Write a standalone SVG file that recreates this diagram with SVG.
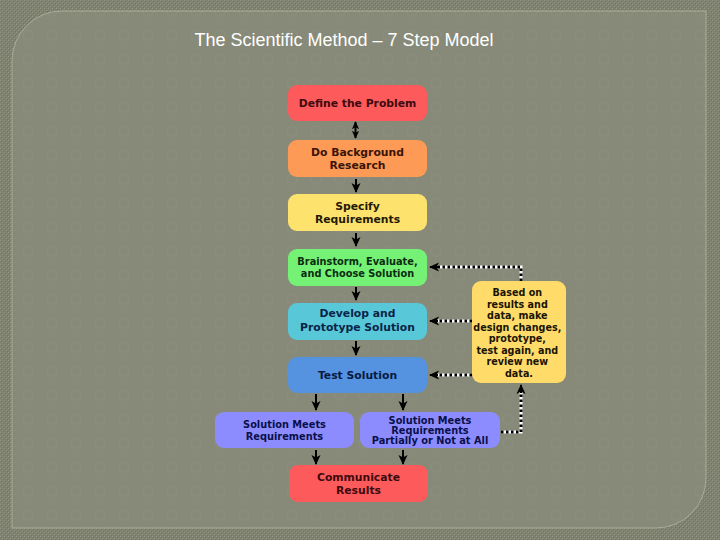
<svg xmlns="http://www.w3.org/2000/svg" width="720" height="540" viewBox="0 0 720 540">
<defs>
<pattern id="outerTex" width="4" height="4" patternUnits="userSpaceOnUse">
<rect width="4" height="4" fill="#7f8271"/>
<rect x="0" y="0" width="1" height="1" fill="#959884"/>
<rect x="2" y="2" width="1" height="1" fill="#959884"/>
<rect x="1" y="1" width="1" height="1" fill="#6f7262"/>
<rect x="3" y="3" width="1" height="1" fill="#6f7262"/>
</pattern>
<pattern id="innerTex" width="24" height="24" patternUnits="userSpaceOnUse" x="16" y="23">
<rect width="24" height="24" fill="#878a78"/>
<circle cx="12" cy="12" r="5" fill="none" stroke="#8b8e7c" stroke-width="1.5"/>
</pattern>
<marker id="ah" viewBox="0 0 10 10" refX="9" refY="5" markerWidth="10" markerHeight="10" markerUnits="userSpaceOnUse" orient="auto-start-reverse">
<path d="M0,0.5 L10,5 L0,9.5 L2.5,5 Z" fill="#000"/>
</marker>
<marker id="ahs" viewBox="0 0 10 10" refX="9" refY="5" markerWidth="8" markerHeight="8" markerUnits="userSpaceOnUse" orient="auto-start-reverse">
<path d="M0,0.5 L10,5 L0,9.5 L2.5,5 Z" fill="#000"/>
</marker>
<style>
.box{stroke:none}
.t{font-family:"DejaVu Sans",Verdana,sans-serif;font-weight:bold;text-anchor:middle}
.solid{stroke:#000;stroke-width:2;fill:none}
.dotW{stroke:#fff;stroke-width:3;fill:none}
.dotB{stroke:#000;stroke-width:3;fill:none;stroke-dasharray:2.5 2.5}
</style>
</defs>
<rect width="720" height="540" fill="url(#outerTex)"/>
<path d="M62,11 H706 V478 A50,50 0 0 1 656,528 H12 V61 A50,50 0 0 1 62,11 Z" fill="url(#innerTex)" stroke="#a9ac98" stroke-width="1"/>
<text x="344" y="46" font-family="Liberation Sans, Arial, sans-serif" font-size="18" fill="#ffffff" text-anchor="middle">The Scientific Method – 7 Step Model</text>

<g id="connectors">
<line class="solid" x1="355.5" y1="122" x2="355.5" y2="138" marker-start="url(#ahs)" marker-end="url(#ahs)"/>
<line class="solid" x1="356" y1="179" x2="356" y2="192" marker-end="url(#ah)"/>
<line class="solid" x1="356" y1="233" x2="356" y2="246" marker-end="url(#ah)"/>
<line class="solid" x1="356" y1="287" x2="356" y2="300" marker-end="url(#ah)"/>
<line class="solid" x1="356" y1="341" x2="356" y2="355" marker-end="url(#ah)"/>
<line class="solid" x1="316" y1="394" x2="316" y2="410" marker-end="url(#ah)"/>
<line class="solid" x1="403" y1="394" x2="403" y2="410" marker-end="url(#ah)"/>
<line class="solid" x1="316" y1="450" x2="316" y2="464" marker-end="url(#ah)"/>
<line class="solid" x1="403" y1="450" x2="403" y2="464" marker-end="url(#ah)"/>
<path class="dotW" d="M521,281 V267 H437"/>
<path class="dotB" d="M521,281 V267 H437"/>
<path class="solid" d="M438,267 H430" marker-end="url(#ah)"/>
<path class="dotW" d="M472,321 H437"/>
<path class="dotB" d="M472,321 H437"/>
<path class="solid" d="M438,321 H430" marker-end="url(#ah)"/>
<path class="dotW" d="M472,375 H437"/>
<path class="dotB" d="M472,375 H437"/>
<path class="solid" d="M438,375 H430" marker-end="url(#ah)"/>
<path class="dotW" d="M501,432 H521 V392"/>
<path class="dotB" d="M501,432 H521 V392"/>
<path class="solid" d="M521,393 V385" marker-end="url(#ah)"/>
</g>

<g id="n1">
<rect class="box" x="288" y="85" width="139" height="36" rx="9" fill="#fd5b5b"/>
<text class="t" x="357.5" y="107" font-size="10.8" fill="#3d0a0e">Define the Problem</text>
</g>
<g id="n2">
<rect class="box" x="288" y="140" width="139" height="37" rx="9" fill="#fd9a55"/>
<text class="t" x="357.5" y="156" font-size="10.8" fill="#3a1408">Do Background</text>
<text class="t" x="357.5" y="169" font-size="10.8" fill="#3a1408">Research</text>
</g>
<g id="n3">
<rect class="box" x="288" y="194" width="139" height="37" rx="9" fill="#fee26e"/>
<text class="t" x="357.5" y="209.5" font-size="10.8" fill="#1e1a06">Specify</text>
<text class="t" x="357.5" y="222.5" font-size="10.8" fill="#1e1a06">Requirements</text>
</g>
<g id="n4">
<rect class="box" x="288" y="249" width="139" height="37" rx="9" fill="#75f275"/>
<text class="t" x="357.5" y="265" font-size="9.8" fill="#0a2c10">Brainstorm, Evaluate,</text>
<text class="t" x="357.5" y="277" font-size="9.8" fill="#0a2c10">and Choose Solution</text>
</g>
<g id="n5">
<rect class="box" x="288" y="303" width="139" height="37" rx="9" fill="#58c8d8"/>
<text class="t" x="357.5" y="317" font-size="10.8" fill="#0a2448">Develop and</text>
<text class="t" x="357.5" y="330.5" font-size="10.8" fill="#0a2448">Prototype Solution</text>
</g>
<g id="n6">
<rect class="box" x="288" y="357" width="139" height="36" rx="9" fill="#5592e0"/>
<text class="t" x="357.5" y="379" font-size="10.8" fill="#081a40">Test Solution</text>
</g>
<g id="n7">
<rect class="box" x="215" y="412" width="139" height="36" rx="9" fill="#8c8cff"/>
<text class="t" x="284.5" y="427.5" font-size="9.8" fill="#0a1048">Solution Meets</text>
<text class="t" x="284.5" y="439.5" font-size="9.8" fill="#0a1048">Requirements</text>
</g>
<g id="n8">
<rect class="box" x="360" y="412" width="140" height="36" rx="9" fill="#8c8cff"/>
<text class="t" x="430" y="423.5" font-size="9.8" fill="#0a1048">Solution Meets</text>
<text class="t" x="430" y="433.5" font-size="9.8" fill="#0a1048">Requirements</text>
<text class="t" x="430" y="443.5" font-size="9.8" fill="#0a1048">Partially or Not at All</text>
</g>
<g id="n9">
<rect class="box" x="289" y="465" width="139" height="37" rx="9" fill="#fd5b5b"/>
<text class="t" x="358.5" y="481" font-size="10.8" fill="#3d0a0e">Communicate</text>
<text class="t" x="358.5" y="494" font-size="10.8" fill="#3d0a0e">Results</text>
</g>
<g id="note">
<rect class="box" x="472" y="281" width="94" height="102" rx="9" fill="#ffdc6a"/>
<text class="t" font-size="9.6" fill="#1a1404">
<tspan x="519" y="296">Based on</tspan>
<tspan x="519" y="307.5">results and</tspan>
<tspan x="519" y="319">data, make</tspan>
<tspan x="519" y="330.5">design changes,</tspan>
<tspan x="519" y="342">prototype,</tspan>
<tspan x="519" y="353.5">test again, and</tspan>
<tspan x="519" y="365">review new</tspan>
<tspan x="519" y="376.5">data.</tspan>
</text>
</g>
</svg>
